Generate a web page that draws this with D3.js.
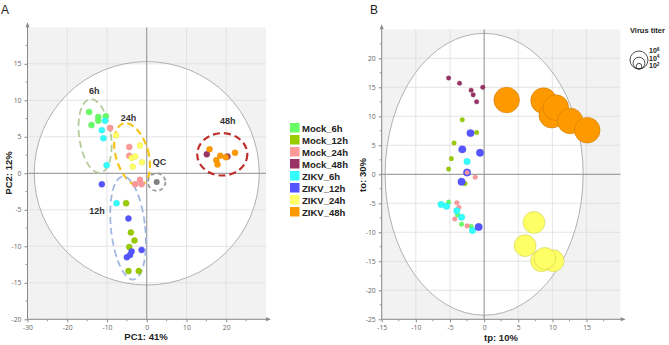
<!doctype html>
<html>
<head>
<meta charset="UTF-8">
<title>PCA / OPLS</title>
<script src="https://d3js.org/d3.v7.min.js"></script>
<style>
  body { margin: 0; background: #fff; }
  text { font-family: "Liberation Sans", Arial, sans-serif; }
</style>
</head>
<body>
<svg id="chart" width="669" height="345"></svg>
<script>
// ---------- data: panel A (PCA scores) ----------
var groups = ["Mock_6h", "Mock_12h", "Mock_24h", "Mock_48h", "ZIKV_6h", "ZIKV_12h", "ZIKV_24h", "ZIKV_48h"];
var colors = ["#66ff66", "#99cc00", "#ff9999", "#993366", "#33ffff", "#5555ff", "#ffff66", "#ff9900"];

var aMock6h = [[-14.5, 8.4], [-13.9, 6.6], [-12.2, 7.7], [-12.2, 7.2], [-10.3, 7.8]];
var aMock12h = [[-5.2, -4.1], [-4.0, -8.1], [-3.1, -9.2], [-4.4, -10.1], [-4.6, -13.4], [-2.0, -13.4]];
var aMock24h = [[-9.2, 6.2], [-4.4, 3.6], [-4.4, 2.4], [-1.7, -0.9], [-2.9, -1.5], [-1.3, -1.5]];
var aMock48h = [[15.1, 2.6], [20.3, 2.3]];
var aZikv6h = [[-10.5, 7.2], [-11.3, 5.9], [-10.9, 4.8], [-10.1, 1.1], [-7.6, -4.1]];
var aZikv12h = [[-11.3, -1.5], [-4.6, -6.2], [-1.3, -10.5], [-3.8, -10.7], [-4.2, -11.2], [-5.0, -11.5]];
var aZikv24h = [[-7.7, 5.2], [-1.7, 3.8], [-3.8, 2.1], [-2.9, 2.3], [-1.2, 1.5], [-3.5, 0.9]];
var aZikv48h = [[15.8, 3.3], [18.5, 2.4], [17.5, 1.8], [17.8, 1.2], [19.9, 2.2], [22.2, 2.8]];
var aQC = [[2.5, -1.2]];

// time-point clusters: label, centre x, centre y, half width (x units), half height (y units), tilt
var clusterNames = ["6h", "24h", "12h", "QC", "48h"];
var clusterCx = [-13.0, -3.7, -4.7, 2.5, 19.0];
var clusterCy = [5.1, 2.6, -7.5, -1.2, 2.6];
var clusterRx = [4.0, 4.1, 4.3, 2.2, 6.3];
var clusterRy = [5.1, 4.4, 7.1, 1.2, 2.9];
var clusterTilt = [-8, -16, -6, 0, 0];
var clusterColors = ["#b5cc9a", "#f5c518", "#a3b8e0", "#9a9a9a", "#c0302a"];
var clusterLabelX = [-13.2, -4.6, -12.5, 3.2, 20.4];
var clusterLabelY = [10.8, 7.1, -5.6, 1.2, 6.7];

// ---------- data: panel B (OPLS scores, size = virus titer) ----------
var bMock6h = [[-5.2, -4.8], [-3.9, -7.0], [-3.3, -8.6], [-1.9, -9.0]];
var bMock12h = [[-3.2, 9.4], [-1.1, 7.2], [-4.4, 5.4], [-4.8, 2.7], [-5.2, 0.9], [-2.8, -1.6]];
var bMock24h = [[-1.3, -0.5], [-2.5, 0.3], [-4.0, -4.9], [-3.7, -5.7], [-4.3, -7.7], [-2.5, -8.9]];
var bMock48h = [[-5.2, 16.6], [-3.6, 15.7], [-1.9, 14.5], [-1.6, 13.7], [-0.2, 15.0], [-1.1, 12.5]];
var bZikv6h = [[-2.5, 2.2], [-6.3, -5.2], [-5.5, -5.5], [-4.0, -6.3], [-3.3, -7.4], [-1.7, -9.7]];
var bZikv12h = [[-2.0, 7.1], [-3.2, 4.3], [-0.6, 3.7], [-2.5, 0.3], [-3.3, -1.3], [-0.8, -9.1]];
var bZikv24h = [[7.3, -8.3], [6.0, -12.3], [10.1, -14.9], [8.4, -14.9], [8.9, -14.5]];
var bZikv48h = [[3.3, 12.8], [8.7, 12.7], [9.9, 10.2], [10.5, 11.5], [12.6, 9.2], [15.1, 7.6]];
// log10 virus titer per group (order as groups)
var titers = [1, 1, 1, 1, 1.5, 1.75, 5.5, 6.5];
var titerLegend = [6, 4, 2];

var aSeries = [aMock6h, aMock12h, aMock24h, aMock48h, aZikv6h, aZikv12h, aZikv24h, aZikv48h];
var bSeries = [bMock6h, bMock12h, bMock24h, bMock48h, bZikv6h, bZikv12h, bZikv24h, bZikv48h];

var svg = d3.select("#chart");

var defs = svg.append("defs");
defs.append("marker").attr("id", "arrow")
    .attr("viewBox", "0 0 10 10").attr("refX", 2).attr("refY", 5)
    .attr("markerWidth", 7).attr("markerHeight", 5).attr("orient", "auto")
    .append("path").attr("d", "M0,1 L10,5 L0,9 Z").attr("fill", "#888");

function fmt(d) { return String(d); }

// draws the frame: grey background, white ellipse, grid, zero lines, axes
function panel(id, x, y, ex, ey, xMajor, xMinor, yMajor, yMinor) {
    var g = svg.append("g").attr("id", id);
    var x0 = x.range()[0], x1 = x.range()[1], y0 = y.range()[0], y1 = y.range()[1];
    defs.append("clipPath").attr("id", id + "clip").append("rect")
        .attr("x", x0).attr("y", y1).attr("width", x1 - x0).attr("height", y0 - y1);
    var body = g.append("g").attr("clip-path", "url(#" + id + "clip)");
    body.append("rect").attr("x", x0).attr("y", y1).attr("width", x1 - x0).attr("height", y0 - y1)
        .attr("fill", "#f2f2f2");
    body.append("ellipse").attr("cx", x(0)).attr("cy", y(0))
        .attr("rx", x(ex) - x(0)).attr("ry", y(0) - y(ey)).attr("fill", "#fff");
    body.selectAll(".gx").data(xMajor.filter(function (d) { return d !== 0; })).enter().append("line")
        .attr("x1", function (d) { return x(d); }).attr("x2", function (d) { return x(d); })
        .attr("y1", y1).attr("y2", y0).attr("stroke", "#dedede").attr("stroke-width", 0.8);
    body.selectAll(".gy").data(yMajor.filter(function (d) { return d !== 0; })).enter().append("line")
        .attr("y1", function (d) { return y(d); }).attr("y2", function (d) { return y(d); })
        .attr("x1", x0).attr("x2", x1).attr("stroke", "#dedede").attr("stroke-width", 0.8);
    body.append("ellipse").attr("cx", x(0)).attr("cy", y(0))
        .attr("rx", x(ex) - x(0)).attr("ry", y(0) - y(ey))
        .attr("fill", "none").attr("stroke", "#b0b0b0").attr("stroke-width", 1);
    body.append("line").attr("x1", x(0)).attr("x2", x(0)).attr("y1", y1).attr("y2", y0)
        .attr("stroke", "#8c8c8c").attr("stroke-width", 1);
    body.append("line").attr("y1", y(0)).attr("y2", y(0)).attr("x1", x0).attr("x2", x1)
        .attr("stroke", "#8c8c8c").attr("stroke-width", 1);

    // axes
    var xa = g.append("g").attr("transform", "translate(0," + y0 + ")")
        .call(d3.axisBottom(x).tickValues(xMajor).tickSize(3).tickFormat(fmt));
    var ya = g.append("g").attr("transform", "translate(" + x0 + ",0)")
        .call(d3.axisLeft(y).tickValues(yMajor).tickSize(3).tickFormat(fmt));
    [xa, ya].forEach(function (a) {
        a.select(".domain").remove();
        a.selectAll("line").attr("stroke", "#888");
        a.selectAll("text").attr("fill", "#666").style("font-size", "6.8px")
            .style("font-family", "'Open Sans', Arial, sans-serif");
    });
    g.selectAll(".mx").data(xMinor).enter().append("line")
        .attr("x1", function (d) { return x(d); }).attr("x2", function (d) { return x(d); })
        .attr("y1", y0).attr("y2", y0 + 2).attr("stroke", "#999");
    g.selectAll(".my").data(yMinor).enter().append("line")
        .attr("y1", function (d) { return y(d); }).attr("y2", function (d) { return y(d); })
        .attr("x1", x0).attr("x2", x0 - 2).attr("stroke", "#999");
    g.append("line").attr("x1", x0).attr("x2", x1 + 1).attr("y1", y0).attr("y2", y0)
        .attr("stroke", "#888").attr("marker-end", "url(#arrow)");
    g.append("line").attr("x1", x0).attr("x2", x0).attr("y1", y0).attr("y2", y1 - 1)
        .attr("stroke", "#888").attr("marker-end", "url(#arrow)");
    return g;
}

// ================= panel A =================
var xA = d3.scaleLinear().domain([-30, 30]).range([27.5, 266]);
var yA = d3.scaleLinear().domain([-20, 20]).range([319.3, 27.3]);
var gA = panel("pa", xA, yA, 28.3, 15.3,
    [-30, -20, -10, 0, 10, 20], d3.range(-25, 30, 10),
    [-20, -15, -10, -5, 0, 5, 10, 15], d3.range(-17.5, 20, 5));

svg.append("text").attr("x", 1).attr("y", 14).text("A")
    .style("font-size", "12px").attr("fill", "#222");
svg.append("text").attr("x", 146).attr("y", 340).attr("text-anchor", "middle").text("PC1: 41%")
    .style("font-size", "9.5px").style("font-weight", "bold").attr("fill", "#222");
svg.append("text").attr("transform", "translate(12,173) rotate(-90)").attr("text-anchor", "middle")
    .text("PC2: 12%").style("font-size", "9.5px").style("font-weight", "bold").attr("fill", "#222");

clusterNames.forEach(function (n, i) {
    gA.append("ellipse")
        .attr("transform", "translate(" + xA(clusterCx[i]) + "," + yA(clusterCy[i]) + ") rotate(" + clusterTilt[i] + ")")
        .attr("rx", xA(clusterRx[i]) - xA(0)).attr("ry", yA(0) - yA(clusterRy[i]))
        .attr("fill", "none").attr("stroke", clusterColors[i])
        .attr("stroke-width", i === 1 || i === 4 ? 2.2 : 1.8)
        .attr("stroke-dasharray", i === 3 ? "4,3" : "7,4");
});

aSeries.forEach(function (pts, i) {
    gA.selectAll(".p" + i).data(pts).enter().append("circle")
        .attr("cx", function (d) { return xA(d[0]); })
        .attr("cy", function (d) { return yA(d[1]); })
        .attr("r", 3).attr("fill", colors[i])
        .attr("stroke", d3.color(colors[i]).darker(0.4)).attr("stroke-width", 0.4);
});
gA.selectAll(".qc").data(aQC).enter().append("circle")
    .attr("cx", function (d) { return xA(d[0]); })
    .attr("cy", function (d) { return yA(d[1]); })
    .attr("r", 3).attr("fill", "#808080");

clusterNames.forEach(function (n, i) {
    gA.append("text").attr("x", xA(clusterLabelX[i])).attr("y", yA(clusterLabelY[i]))
        .attr("text-anchor", "middle").text(n)
        .style("font-size", "9px").style("font-weight", "bold").attr("fill", "#333");
});

// legend A
var leg = svg.append("g").attr("transform", "translate(290,123)");
groups.forEach(function (n, i) {
    leg.append("rect").attr("x", 0).attr("y", i * 12).attr("width", 9.5).attr("height", 9.5)
        .attr("fill", colors[i]);
    leg.append("text").attr("x", 12).attr("y", i * 12 + 8.5).text(n)
        .style("font-size", "9.5px").style("font-weight", "bold").attr("fill", "#222");
});

// ================= panel B =================
var xB = d3.scaleLinear().domain([-15, 20]).range([381.7, 620.7]);
var yB = d3.scaleLinear().domain([-25, 25]).range([319.3, 29.3]);
var gB = panel("pb", xB, yB, 14.5, 24.3,
    [-15, -10, -5, 0, 5, 10, 15], d3.range(-12.5, 20, 5),
    [-25, -20, -15, -10, -5, 0, 5, 10, 15, 20], d3.range(-22.5, 25, 5));

svg.append("text").attr("x", 370).attr("y", 14).text("B")
    .style("font-size", "12px").attr("fill", "#222");
svg.append("text").attr("x", 501).attr("y", 341).attr("text-anchor", "middle").text("tp: 10%")
    .style("font-size", "9.5px").style("font-weight", "bold").attr("fill", "#222");
svg.append("text").attr("transform", "translate(366,175) rotate(-90)").attr("text-anchor", "middle")
    .text("to: 30%").style("font-size", "9.5px").style("font-weight", "bold").attr("fill", "#222");

var rB = d3.scaleLinear().domain([1, 6.5]).range([2.3, 12.8]);
bSeries.forEach(function (pts, i) {
    gB.selectAll(".b" + i).data(pts).enter().append("circle")
        .attr("cx", function (d) { return xB(d[0]); })
        .attr("cy", function (d) { return yB(d[1]); })
        .attr("r", rB(titers[i])).attr("fill", colors[i])
        .attr("stroke", d3.color(colors[i]).darker(0.6)).attr("stroke-width", titers[i] > 3 ? 0.6 : 0.3);
});
// mock point drawn on top of a ZIKV_12h marker
gB.append("circle").attr("cx", xB(bMock24h[1][0])).attr("cy", yB(bMock24h[1][1]))
    .attr("r", rB(titers[2])).attr("fill", colors[2]);

// titer legend
var tl = svg.append("g");
tl.append("text").attr("x", 630).attr("y", 33).text("Virus titer")
    .style("font-size", "7.5px").style("font-weight", "bold").attr("fill", "#222");
var rL = d3.scaleLinear().domain([2, 6]).range([2.8, 9]);
var base = 69;
titerLegend.forEach(function (t, i) {
    tl.append("circle").attr("cx", 639).attr("cy", base - rL(t)).attr("r", rL(t))
        .attr("fill", "none").attr("stroke", "#222").attr("stroke-width", 0.8);
    var tx = tl.append("text").attr("x", 649).attr("y", 53 + i * 7.5)
        .style("font-size", "7px").style("font-weight", "bold").attr("fill", "#222");
    tx.append("tspan").text("10");
    tx.append("tspan").attr("dy", -2.5).style("font-size", "4.8px").text(t);
});
</script>
</body>
</html>
